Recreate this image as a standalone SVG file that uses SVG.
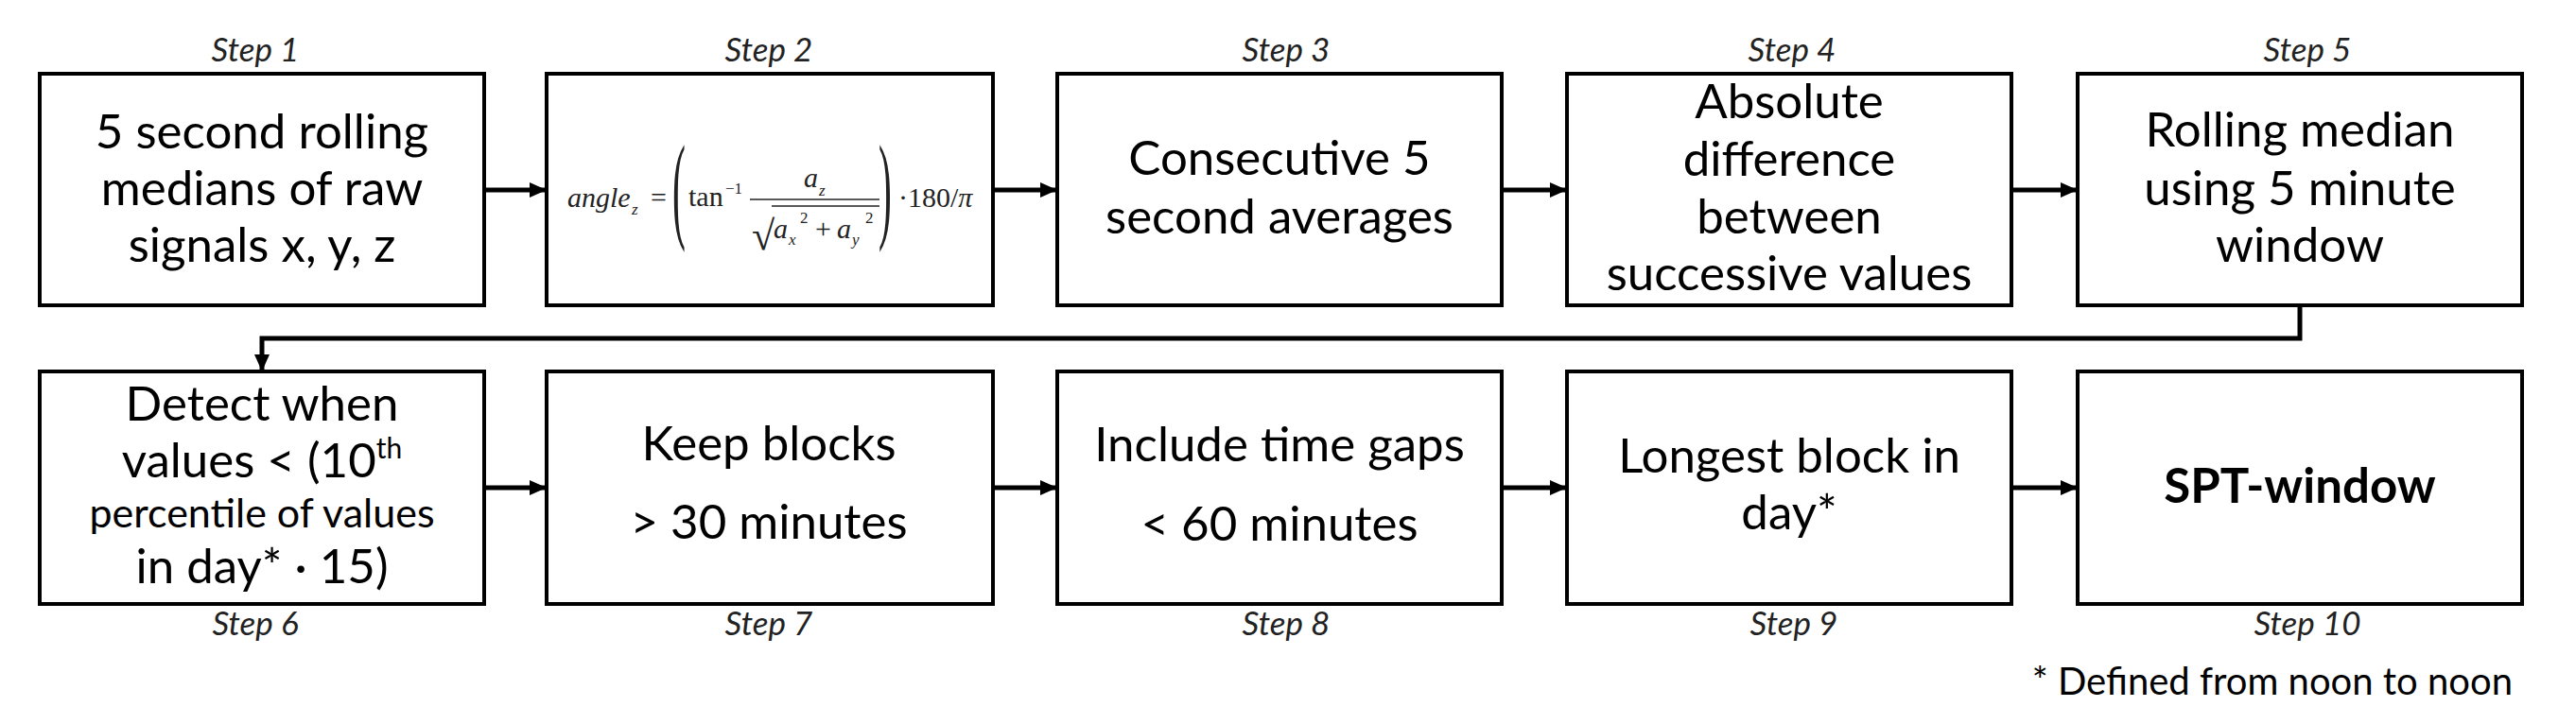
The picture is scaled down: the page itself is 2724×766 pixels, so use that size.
<svg xmlns="http://www.w3.org/2000/svg" width="2724" height="766" viewBox="0 0 2724 766">
<defs>
<style>
.box{fill:#fff;stroke:#000;stroke-width:4}
.t{font-family:Lato,"Liberation Sans",sans-serif;font-size:51px;fill:#000;text-anchor:middle}
.s{font-family:Lato,"Liberation Sans",sans-serif;font-size:35px;font-style:italic;fill:#222;text-anchor:middle}
.f{font-family:"Liberation Serif","Times New Roman",serif;font-size:30px;fill:#222}
.fs{font-family:"Liberation Serif","Times New Roman",serif;font-size:17px;fill:#222}
.i{font-style:italic}
.c{fill:none;stroke:#000;stroke-width:5}
</style>
<marker id="ah" markerUnits="userSpaceOnUse" markerWidth="18" markerHeight="16" viewBox="0 0 18 16" refX="18" refY="8" orient="auto">
<path d="M0,0 L18,8 L0,16 z" fill="#000"/>
</marker>
</defs>
<rect width="2724" height="766" fill="#fff"/>

<g id="connectors">
<path class="c" d="M512,201 H578" marker-end="url(#ah)"/>
<path class="c" d="M1050,201 H1118" marker-end="url(#ah)"/>
<path class="c" d="M1588,201 H1657" marker-end="url(#ah)"/>
<path class="c" d="M2127,201 H2197" marker-end="url(#ah)"/>
<path class="c" d="M2432,323 V358 H277 V393" marker-end="url(#ah)"/>
<path class="c" d="M512,516 H578" marker-end="url(#ah)"/>
<path class="c" d="M1050,516 H1118" marker-end="url(#ah)"/>
<path class="c" d="M1588,516 H1657" marker-end="url(#ah)"/>
<path class="c" d="M2127,516 H2197" marker-end="url(#ah)"/>
</g>

<g id="step1">
<text class="s" x="270" y="65">Step 1</text>
<rect class="box" x="42" y="78" width="470" height="245"/>
<text class="t" x="277" y="157">5 second rolling</text>
<text class="t" x="277" y="217">medians of raw</text>
<text class="t" x="277" y="277">signals x, y, z</text>
</g>

<g id="step2">
<text class="s" x="813" y="65">Step 2</text>
<rect class="box" x="578" y="78" width="472" height="245"/>
<text class="f i" x="600" y="219">angle</text>
<text class="fs i" x="668" y="227">z</text>
<text class="f" x="688" y="219">=</text>
<text class="f" transform="translate(711,240) scale(0.33,1)" style="font-size:126px">(</text>
<text class="f" x="728" y="218">tan</text>
<text class="fs" x="767" y="205">−1</text>
<text class="f i" x="850" y="198">a</text>
<text class="fs i" x="866" y="207">z</text>
<line x1="793" y1="211" x2="930" y2="211" stroke="#222" stroke-width="1.6"/>
<text class="f" x="795" y="264" style="font-size:44px">√</text>
<line x1="816" y1="218" x2="930" y2="218" stroke="#222" stroke-width="1.6"/>
<text class="f i" x="818" y="252">a</text>
<text class="fs i" x="834" y="259">x</text>
<text class="fs" x="846" y="236">2</text>
<text class="f" x="862" y="252">+</text>
<text class="f i" x="885" y="252">a</text>
<text class="fs i" x="901" y="259">y</text>
<text class="fs" x="915" y="236">2</text>
<text class="f" transform="translate(929,240) scale(0.33,1)" style="font-size:126px">)</text>
<text class="f" x="950" y="219">·180/<tspan class="i">π</tspan></text>
</g>

<g id="step3">
<text class="s" x="1360" y="65">Step 3</text>
<rect class="box" x="1118" y="78" width="470" height="245"/>
<text class="t" x="1353" y="185">Consecutive 5</text>
<text class="t" x="1353" y="247">second averages</text>
</g>

<g id="step4">
<text class="s" x="1895" y="65">Step 4</text>
<rect class="box" x="1657" y="78" width="470" height="245"/>
<text class="t" x="1892" y="125">Absolute</text>
<text class="t" x="1892" y="186">difference</text>
<text class="t" x="1892" y="247">between</text>
<text class="t" x="1892" y="307">successive values</text>
</g>

<g id="step5">
<text class="s" x="2440" y="65">Step 5</text>
<rect class="box" x="2197" y="78" width="470" height="245"/>
<text class="t" x="2432" y="155">Rolling median</text>
<text class="t" x="2432" y="217">using 5 minute</text>
<text class="t" x="2432" y="277">window</text>
</g>

<g id="step6">
<rect class="box" x="42" y="393" width="470" height="246"/>
<text class="t" x="277" y="445">Detect when</text>
<text class="t" x="277" y="505">values &lt; (10<tspan style="font-size:30px" dy="-20">th</tspan></text>
<text class="t" x="277" y="558" style="font-size:43px">percentile of values</text>
<text class="t" x="277" y="617">in day* · 15)</text>
<text class="s" x="270" y="672">Step 6</text>
</g>

<g id="step7">
<rect class="box" x="578" y="393" width="472" height="246"/>
<text class="t" x="813" y="487">Keep blocks</text>
<text class="t" x="813" y="570">&gt; 30 minutes</text>
<text class="s" x="813" y="672">Step 7</text>
</g>

<g id="step8">
<rect class="box" x="1118" y="393" width="470" height="246"/>
<text class="t" x="1353" y="488">Include time gaps</text>
<text class="t" x="1353" y="572">&lt; 60 minutes</text>
<text class="s" x="1360" y="672">Step 8</text>
</g>

<g id="step9">
<rect class="box" x="1657" y="393" width="470" height="246"/>
<text class="t" x="1892" y="500">Longest block in</text>
<text class="t" x="1892" y="560">day*</text>
<text class="s" x="1897" y="672">Step 9</text>
</g>

<g id="step10">
<rect class="box" x="2197" y="393" width="470" height="246"/>
<text class="t" x="2432" y="532" style="font-weight:bold">SPT-window</text>
<text class="s" x="2440" y="672">Step 10</text>
</g>

<g id="footnote">
<text x="2657" y="735" style="font-family:Lato,'Liberation Sans',sans-serif;font-size:40px;fill:#000;text-anchor:end">* Defined from noon to noon</text>
</g>
</svg>
